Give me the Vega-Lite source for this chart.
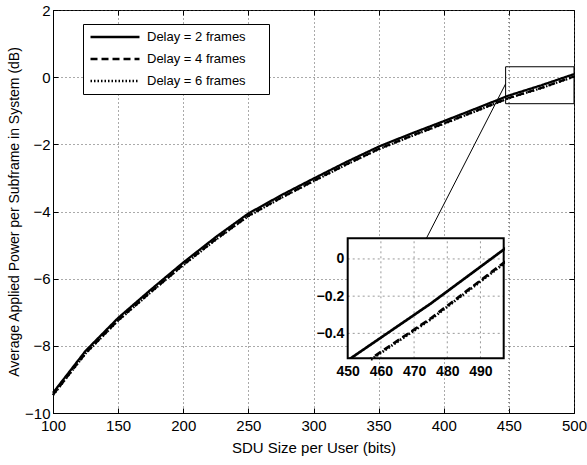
{
  "$schema": "https://vega.github.io/schema/vega-lite/v6.json",
  "width": 521,
  "height": 403,
  "autosize": {"type": "none"},
  "padding": {"left": 53, "top": 10, "right": 13, "bottom": 52},
  "background": "white",
  "config": {
    "font": "Liberation Sans",
    "view": {"stroke": "black", "strokeWidth": 1},
    "axis": {"labelColor": "black", "titleColor": "black", "domainColor": "black", "tickColor": "black", "titleFontWeight": "normal", "labelFlush": false, "labelOverlap": false}
  },
  "datasets": {
    "curves": [
      {"size": 100, "power": -9.40, "delay": "Delay = 2 frames"},
      {"size": 125, "power": -8.15, "delay": "Delay = 2 frames"},
      {"size": 150, "power": -7.17, "delay": "Delay = 2 frames"},
      {"size": 175, "power": -6.33, "delay": "Delay = 2 frames"},
      {"size": 200, "power": -5.52, "delay": "Delay = 2 frames"},
      {"size": 225, "power": -4.76, "delay": "Delay = 2 frames"},
      {"size": 250, "power": -4.06, "delay": "Delay = 2 frames"},
      {"size": 275, "power": -3.52, "delay": "Delay = 2 frames"},
      {"size": 300, "power": -3.02, "delay": "Delay = 2 frames"},
      {"size": 325, "power": -2.53, "delay": "Delay = 2 frames"},
      {"size": 350, "power": -2.07, "delay": "Delay = 2 frames"},
      {"size": 375, "power": -1.68, "delay": "Delay = 2 frames"},
      {"size": 400, "power": -1.31, "delay": "Delay = 2 frames"},
      {"size": 425, "power": -0.93, "delay": "Delay = 2 frames"},
      {"size": 450, "power": -0.545, "delay": "Delay = 2 frames"},
      {"size": 475, "power": -0.24, "delay": "Delay = 2 frames"},
      {"size": 500, "power": 0.09, "delay": "Delay = 2 frames"},
      {"size": 100, "power": -9.46, "delay": "Delay = 4 frames"},
      {"size": 125, "power": -8.22, "delay": "Delay = 4 frames"},
      {"size": 150, "power": -7.24, "delay": "Delay = 4 frames"},
      {"size": 175, "power": -6.40, "delay": "Delay = 4 frames"},
      {"size": 200, "power": -5.59, "delay": "Delay = 4 frames"},
      {"size": 225, "power": -4.83, "delay": "Delay = 4 frames"},
      {"size": 250, "power": -4.13, "delay": "Delay = 4 frames"},
      {"size": 275, "power": -3.59, "delay": "Delay = 4 frames"},
      {"size": 300, "power": -3.09, "delay": "Delay = 4 frames"},
      {"size": 325, "power": -2.60, "delay": "Delay = 4 frames"},
      {"size": 350, "power": -2.14, "delay": "Delay = 4 frames"},
      {"size": 375, "power": -1.75, "delay": "Delay = 4 frames"},
      {"size": 400, "power": -1.38, "delay": "Delay = 4 frames"},
      {"size": 425, "power": -1.00, "delay": "Delay = 4 frames"},
      {"size": 450, "power": -0.62, "delay": "Delay = 4 frames"},
      {"size": 475, "power": -0.32, "delay": "Delay = 4 frames"},
      {"size": 500, "power": 0.02, "delay": "Delay = 4 frames"},
      {"size": 100, "power": -9.47, "delay": "Delay = 6 frames"},
      {"size": 125, "power": -8.23, "delay": "Delay = 6 frames"},
      {"size": 150, "power": -7.25, "delay": "Delay = 6 frames"},
      {"size": 175, "power": -6.41, "delay": "Delay = 6 frames"},
      {"size": 200, "power": -5.60, "delay": "Delay = 6 frames"},
      {"size": 225, "power": -4.84, "delay": "Delay = 6 frames"},
      {"size": 250, "power": -4.14, "delay": "Delay = 6 frames"},
      {"size": 275, "power": -3.60, "delay": "Delay = 6 frames"},
      {"size": 300, "power": -3.10, "delay": "Delay = 6 frames"},
      {"size": 325, "power": -2.61, "delay": "Delay = 6 frames"},
      {"size": 350, "power": -2.15, "delay": "Delay = 6 frames"},
      {"size": 375, "power": -1.76, "delay": "Delay = 6 frames"},
      {"size": 400, "power": -1.39, "delay": "Delay = 6 frames"},
      {"size": 425, "power": -1.01, "delay": "Delay = 6 frames"},
      {"size": 450, "power": -0.625, "delay": "Delay = 6 frames"},
      {"size": 475, "power": -0.325, "delay": "Delay = 6 frames"},
      {"size": 500, "power": 0.015, "delay": "Delay = 6 frames"}
    ],
    "inset_box": [{"x1": 450, "x2": 497, "y1": -0.534, "y2": 0.111}],
    "inset_vgrid": [{"gx": 460}, {"gx": 470}, {"gx": 480}, {"gx": 490}],
    "inset_hgrid": [{"gy": -0.4}, {"gy": -0.2}, {"gy": 0}],
    "covers": [
      {"x1": 447, "x2": 457, "y1": -0.70, "y2": -0.538},
      {"x1": 497.4, "x2": 502, "y1": -0.08, "y2": 0.112}
    ]
  },
  "layer": [
    {
      "layer": [
        {
          "data": {"name": "curves"},
          "mark": {"type": "line", "color": "black", "strokeCap": "butt", "strokeJoin": "round"},
          "encoding": {
            "x": {"field": "size", "type": "quantitative",
              "scale": {"domain": [100, 500], "nice": false, "zero": false},
              "axis": {"orient": "bottom", "values": [100, 150, 200, 250, 300, 350, 400, 450, 500],
                "title": "SDU Size per User (bits)", "titleFontSize": 15, "titlePadding": 7,
                "labelFontSize": 15, "labelPadding": 10, "tickSize": -5,
                "grid": true, "gridColor": "#555", "gridDash": [1, 3], "gridOpacity": 1, "domainWidth": 1}},
            "y": {"field": "power", "type": "quantitative",
              "scale": {"domain": [-10, 2], "nice": false, "zero": false},
              "axis": {"orient": "left", "values": [-10, -8, -6, -4, -2, 0, 2],
                "title": "Average Applied Power per Subframe in System (dB)", "titleFontSize": 14, "titlePadding": 3,
                "labelFontSize": 15, "labelPadding": 8, "tickSize": -5,
                "grid": true, "gridColor": "#555", "gridDash": [1, 3], "gridOpacity": 1, "domainWidth": 1}},
            "strokeDash": {"field": "delay", "type": "nominal",
              "scale": {"domain": ["Delay = 2 frames", "Delay = 4 frames", "Delay = 6 frames"], "range": [[1, 0], [7, 4], [1.5, 2]]},
              "legend": {"orient": "none", "legendX": 30, "legendY": 14,
                "title": "\u00a0", "titleOrient": "right", "titlePadding": 17, "titleFontSize": 13,
                "strokeColor": "black", "fillColor": "white", "padding": 6, "cornerRadius": 0,
                "symbolType": "stroke", "symbolSize": 2400, "symbolStrokeColor": "black",
                "clipHeight": 14, "rowPadding": 8, "labelFontSize": 13, "labelOffset": 6, "labelColor": "black"}},
            "strokeWidth": {"field": "delay", "type": "nominal",
              "scale": {"domain": ["Delay = 2 frames", "Delay = 4 frames", "Delay = 6 frames"], "range": [2.3, 2.3, 1.4]},
              "legend": {"orient": "none", "legendX": 30, "legendY": 14,
                "title": "\u00a0", "titleOrient": "right", "titlePadding": 17, "titleFontSize": 13,
                "strokeColor": "black", "fillColor": "white", "padding": 6, "cornerRadius": 0,
                "symbolType": "stroke", "symbolSize": 2400, "symbolStrokeColor": "black",
                "clipHeight": 14, "rowPadding": 8, "labelFontSize": 13, "labelOffset": 6, "labelColor": "black"}}
          }
        },
        {
          "data": {"values": [{"x1": 447.5, "x2": 500, "y1": -0.79, "y2": 0.31}]},
          "mark": {"type": "rect", "filled": false, "color": "black", "strokeWidth": 1},
          "encoding": {
            "x": {"field": "x1", "type": "quantitative",
              "axis": {"orient": "top", "values": [100, 150, 200, 250, 300, 350, 400, 450, 500], "labels": false, "title": null, "tickSize": -5, "grid": false, "domain": false}},
            "x2": {"field": "x2"},
            "y": {"field": "y1", "type": "quantitative",
              "axis": {"orient": "right", "values": [-10, -8, -6, -4, -2, 0, 2], "labels": false, "title": null, "tickSize": -5, "grid": false, "domain": false}},
            "y2": {"field": "y2"}
          }
        },
        {
          "data": {"values": [{"x1": 447.5, "y1": -0.2, "x2": 386, "y2": -4.85}]},
          "mark": {"type": "rule", "color": "black", "strokeWidth": 1},
          "encoding": {
            "x": {"field": "x1", "type": "quantitative", "axis": null},
            "y": {"field": "y1", "type": "quantitative", "axis": null},
            "x2": {"field": "x2"},
            "y2": {"field": "y2"}
          }
        }
      ],
      "resolve": {"axis": {"x": "independent", "y": "independent"}}
    },
    {
      "layer": [
        {
          "data": {"name": "inset_box"},
          "mark": {"type": "rect", "fill": "white", "strokeWidth": 0},
          "encoding": {
            "x": {"field": "x1", "type": "quantitative",
              "scale": {"domain": [450, 497], "range": [294.7, 450.7], "nice": false, "zero": false},
              "axis": null},
            "x2": {"field": "x2"},
            "y": {"field": "y1", "type": "quantitative",
              "scale": {"domain": [-0.534, 0.111], "range": [348.3, 228.3], "nice": false, "zero": false},
              "axis": null},
            "y2": {"field": "y2"}
          }
        },
        {
          "data": {"name": "inset_vgrid"},
          "mark": {"type": "rule", "color": "#999", "strokeDash": [2, 3], "strokeWidth": 1},
          "encoding": {
            "x": {"field": "gx", "type": "quantitative", "axis": null},
            "y": {"datum": -0.534, "type": "quantitative", "axis": null},
            "y2": {"datum": 0.111}
          }
        },
        {
          "data": {"name": "inset_hgrid"},
          "mark": {"type": "rule", "color": "#999", "strokeDash": [2, 3], "strokeWidth": 1},
          "encoding": {
            "y": {"field": "gy", "type": "quantitative", "axis": null},
            "x": {"datum": 450, "type": "quantitative", "axis": null},
            "x2": {"datum": 497}
          }
        },
        {
          "data": {"name": "curves"},
          "transform": [{"filter": "datum.size >= 450"}],
          "mark": {"type": "line", "color": "black", "strokeCap": "butt", "strokeJoin": "round", "strokeWidth": 2.7},
          "encoding": {
            "x": {"field": "size", "type": "quantitative",
              "axis": {"orient": "bottom", "offset": -54.7, "values": [450, 460, 470, 480, 490], "title": null,
                "labelFontSize": 14, "labelFontWeight": "bold", "labelPadding": 6, "ticks": false, "domain": false, "grid": false, "zindex": 1}},
            "y": {"field": "power", "type": "quantitative",
              "axis": {"orient": "left", "offset": -294.7, "values": [-0.4, -0.2, 0], "format": "~g", "title": null,
                "labelFontSize": 14, "labelFontWeight": "bold", "labelPadding": 4, "ticks": false, "domain": false,
                "grid": false, "zindex": 1}},
            "strokeDash": {"field": "delay", "type": "nominal", "legend": null}
          }
        },
        {
          "data": {"name": "covers"},
          "mark": {"type": "rect", "fill": "white", "strokeWidth": 0},
          "encoding": {
            "x": {"field": "x1", "type": "quantitative", "axis": null},
            "x2": {"field": "x2"},
            "y": {"field": "y1", "type": "quantitative", "axis": null},
            "y2": {"field": "y2"}
          }
        },
        {
          "data": {"name": "inset_box"},
          "mark": {"type": "rect", "filled": false, "color": "black", "strokeWidth": 2},
          "encoding": {
            "x": {"field": "x1", "type": "quantitative", "axis": null},
            "x2": {"field": "x2"},
            "y": {"field": "y1", "type": "quantitative", "axis": null},
            "y2": {"field": "y2"}
          }
        }
      ],
      "resolve": {"axis": {"x": "independent", "y": "independent"}}
    },
    {
      "data": {"values": [{"grid": 450}]},
      "mark": {"type": "rule", "color": "#555", "strokeDash": [1, 3], "strokeWidth": 1},
      "encoding": {
        "x": {"field": "grid", "type": "quantitative", "scale": {"domain": [100, 500], "nice": false, "zero": false}, "axis": null}
      }
    }
  ],
  "resolve": {"scale": {"x": "independent", "y": "independent"}}
}
